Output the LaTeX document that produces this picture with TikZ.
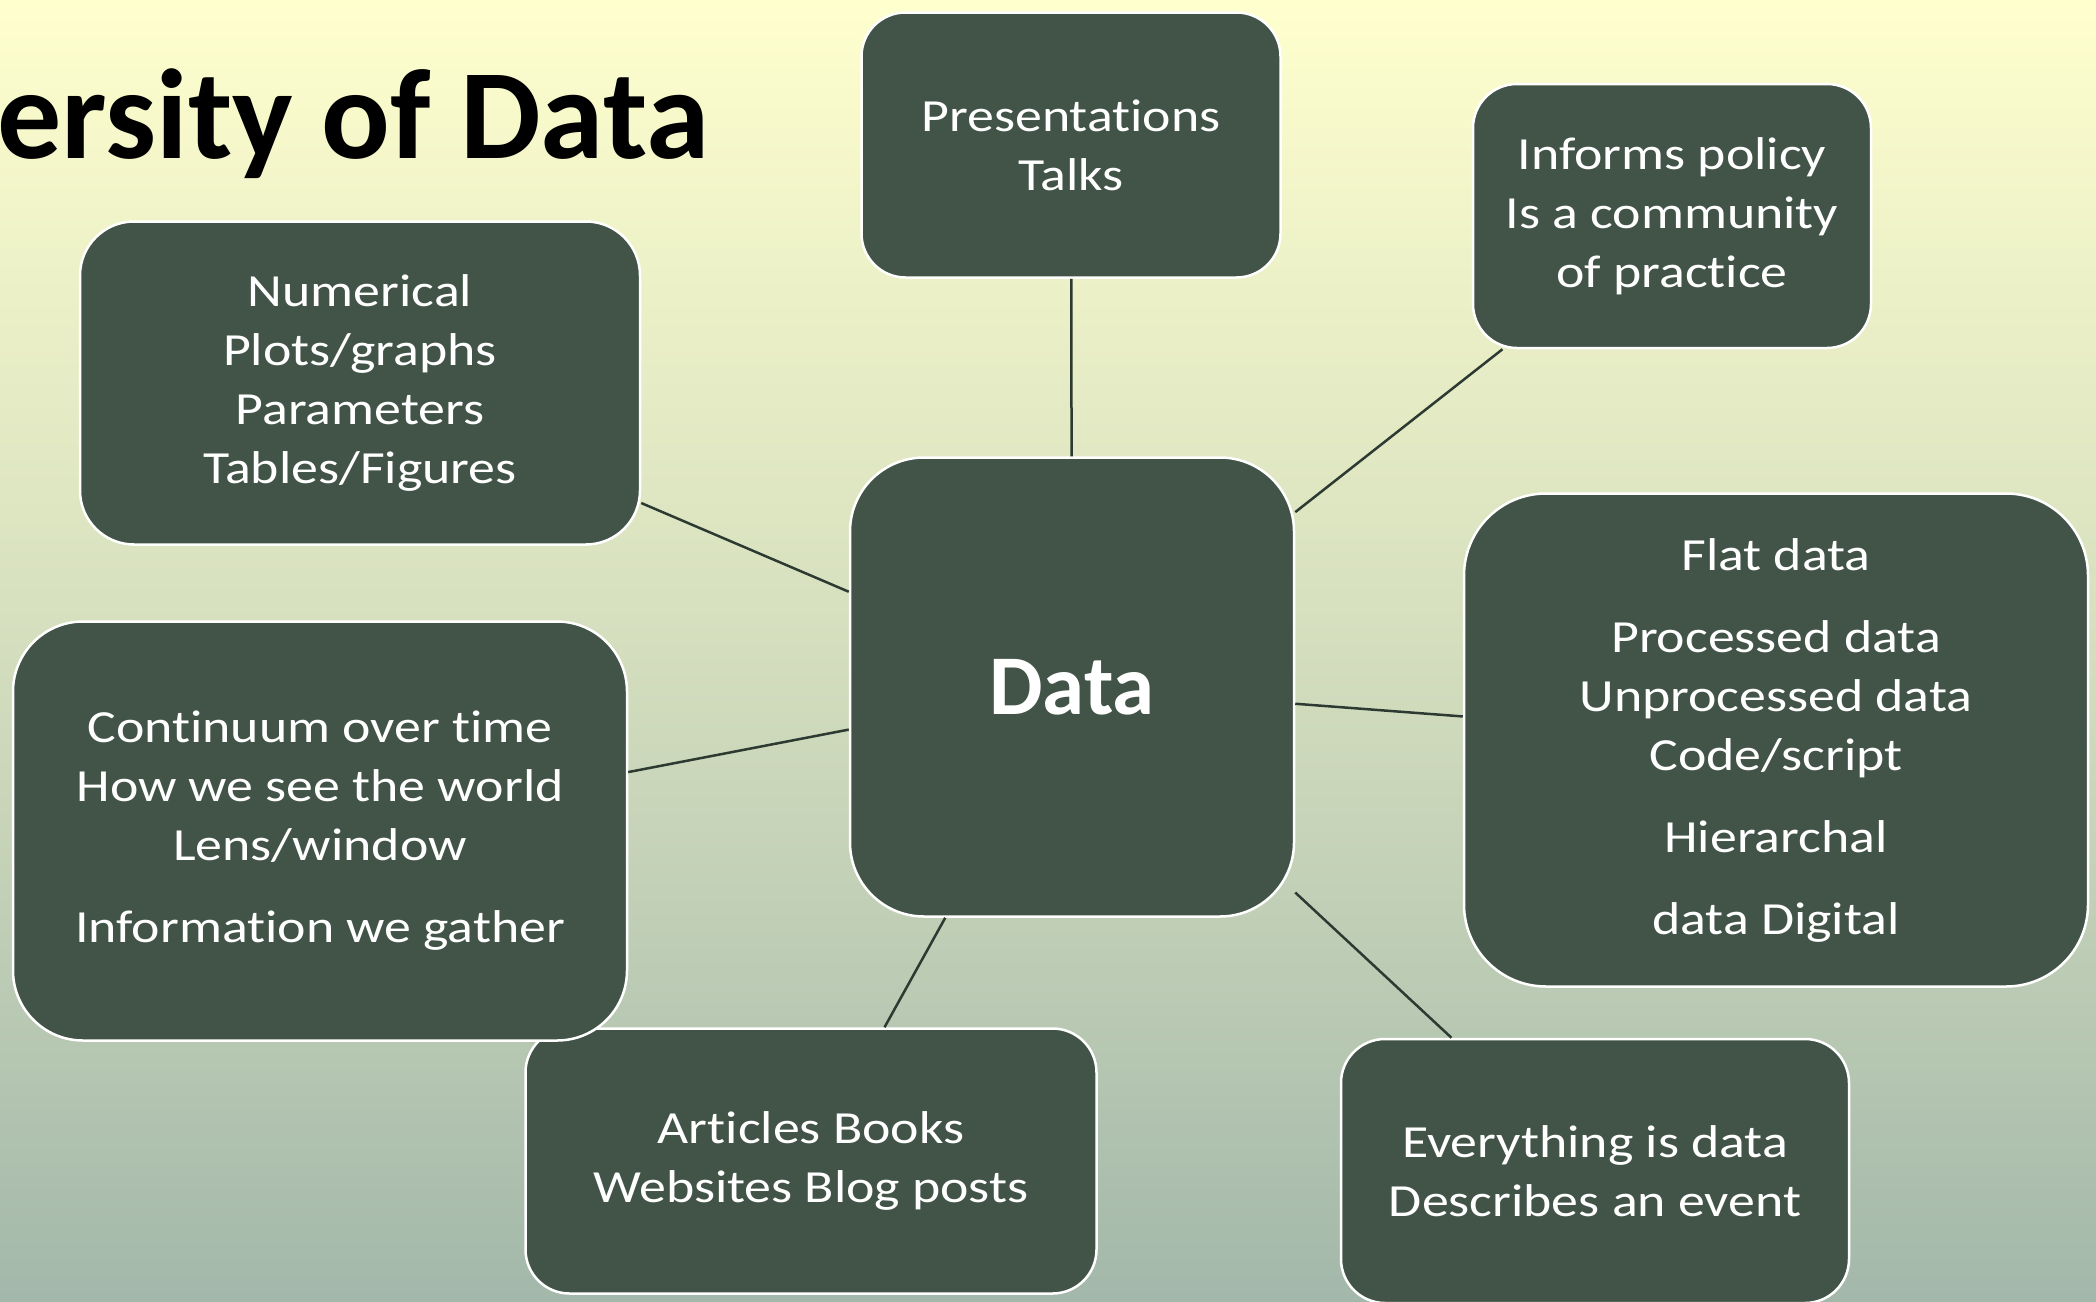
\documentclass[tikz,border=0pt]{standalone}
\usepackage{fontspec}
\setmainfont{Carlito}
\newfontfamily\boxfont[FakeStretch=1.17, RawFeature={-liga;-clig;-calt}]{Carlito}

\definecolor{boxfill}{RGB}{66,84,72}
\definecolor{linkcol}{RGB}{45,58,50}
\definecolor{bgtop}{RGB}{255,255,206}
\definecolor{bgmid}{RGB}{212,222,190}
\definecolor{bgbot}{RGB}{163,184,170}

\tikzset{
  idea/.style={draw=white, line width=2.5pt, fill=boxfill, text=white,
    align=center, inner sep=0pt, font=\boxfont\fontsize{46}{59}\selectfont},
  link/.style={draw=linkcol, line width=2.5pt}
}

\begin{document}
\begin{tikzpicture}[x=1pt,y=-1pt]
    \useasboundingbox (0,0) rectangle (2096,1301);
    \shade[top color=bgtop, bottom color=bgbot, middle color=bgmid] (0,0) rectangle (2096,1301);

    \node[anchor=base west, inner sep=0pt, font=\bfseries\fontsize{128}{134}\selectfont] (title) at (-3,158) {ersity of Data};

    \node[idea, minimum width=444pt, minimum height=459pt, rounded corners=74pt,
      font=\bfseries\fontsize{85}{90}\selectfont] (data) at (1072,687) {Data};

    \node[idea, minimum width=419pt, minimum height=265pt, rounded corners=44pt] (talks) at (1071,145)
      {Presentations\\Talks};
    \node[idea, minimum width=398pt, minimum height=264pt, rounded corners=44pt] (policy) at (1672,216)
      {Informs policy\\Is a community\\of practice};
    \node[idea, minimum width=560pt, minimum height=323pt, rounded corners=54pt] (numeric) at (360,383)
      {Numerical\\Plots/graphs\\Parameters\\Tables/Figures};
    \node[idea, minimum width=624pt, minimum height=493pt, rounded corners=82pt] (kinds) at (1776,740)
      {Flat data\\[23pt]Processed data\\Unprocessed data\\Code/script\\[23pt]Hierarchal\\[23pt]data Digital};
    \node[idea, minimum width=571pt, minimum height=265pt, rounded corners=44pt] (texts) at (811,1161)
      {Articles Books\\Websites Blog posts};
    \node[idea, minimum width=614pt, minimum height=419pt, rounded corners=70pt] (world) at (320,831)
      {Continuum over time\\How we see the world\\Lens/window\\[23pt]Information we gather};
    \node[idea, minimum width=508pt, minimum height=264pt, rounded corners=44pt] (event) at (1595,1171)
      {Everything is data\\Describes an event};

    \draw[link] (data) -- (talks);
    \draw[link] (data) -- (policy);
    \draw[link] (data) -- (kinds);
    \draw[link] (data) -- (event);
    \draw[link] (data) -- (texts);
    \draw[link] (data) -- (world);
    \draw[link] (data) -- (numeric);
\end{tikzpicture}
\end{document}
